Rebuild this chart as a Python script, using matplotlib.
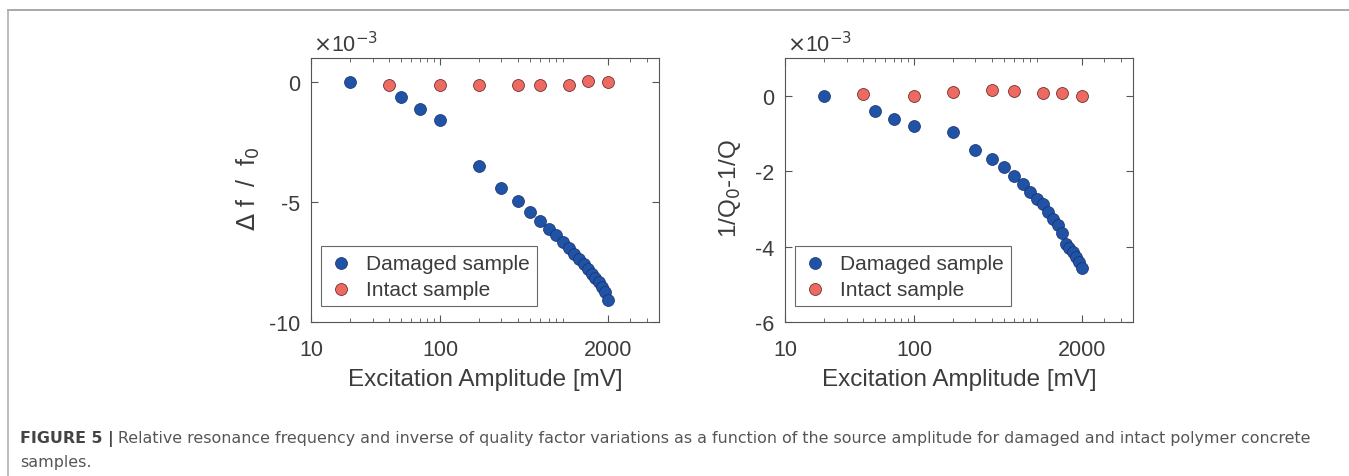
import matplotlib
matplotlib.use("Agg")
import matplotlib.pyplot as plt
from matplotlib.lines import Line2D
from matplotlib.ticker import NullFormatter

plt.rcParams["font.family"] = ["Liberation Sans", "DejaVu Sans"]
plt.rcParams["axes.unicode_minus"] = False

# excitation amplitude [mV]
amp_damaged = [20, 50, 70, 100, 200, 300, 400, 500, 600, 700, 800, 900, 1000,
               1100, 1200, 1300, 1400, 1500, 1600, 1700, 1800, 1900, 2000]
amp_intact = [40, 100, 200, 400, 600, 1000, 1400, 2000]

# relative frequency shift (x 1e-3)
df_damaged = [0.0, -0.64, -1.11, -1.6, -3.52, -4.4, -4.97, -5.42, -5.79, -6.11,
              -6.39, -6.67, -6.91, -7.16, -7.37, -7.58, -7.78, -7.99, -8.16,
              -8.34, -8.55, -8.76, -9.1]
df_intact = [-0.13, -0.13, -0.13, -0.14, -0.13, -0.13, 0.04, 0.0]

# 1/Q0 - 1/Q (x 1e-3)
q_damaged = [0.0, -0.41, -0.62, -0.81, -0.97, -1.44, -1.69, -1.9, -2.12, -2.35,
             -2.55, -2.73, -2.88, -3.08, -3.27, -3.44, -3.65, -3.92, -4.03,
             -4.15, -4.28, -4.4, -4.57]
q_intact = [0.04, -0.02, 0.10, 0.14, 0.12, 0.07, 0.06, 0.0]

xticks = [10, 100, 2000]
xticklabels = ["10", "100", "2000"]
yticks_left = [-10, -5, 0]
yticks_right = [-6, -4, -2, 0]

blue = "#2052a6"
red = "#ec6a62"
txt = "#3c3c3c"

W, H = 1349, 477
fig = plt.figure(figsize=(W / 100, H / 100), dpi=100)


def panel(x0, ylim, yticks, yd, yi, ylabel, labx, labsize):
    ax = fig.add_axes([x0 / W, 1 - 323 / H, 348 / W, 264 / H])
    ax.scatter(amp_damaged, yd, s=74, color=blue, edgecolors="#17306a",
               linewidths=0.5, label="Damaged sample", zorder=3)
    ax.scatter(amp_intact, yi, s=74, color=red, edgecolors="#5a1a16",
               linewidths=0.5, label="Intact sample", zorder=3)
    ax.set_xscale("log")
    ax.set_xlim(10, 5000)
    ax.set_ylim(*ylim)
    ax.set_xticks(xticks)
    ax.set_xticklabels(xticklabels)
    ax.xaxis.set_minor_formatter(NullFormatter())
    ax.set_yticks(yticks)
    ax.set_yticklabels([str(t) for t in yticks])
    ax.tick_params(which="both", direction="in", top=True, right=True,
                   colors="#555555", labelcolor=txt, labelsize=15.5, pad=8)
    ax.tick_params(axis="x", which="both", pad=12)
    ax.tick_params(which="major", length=5)
    ax.tick_params(which="minor", length=3)
    for s in ax.spines.values():
        s.set_color("#555555")
        s.set_linewidth(0.8)
    ax.set_xlabel("Excitation Amplitude [mV]", fontsize=17.5, color=txt,
                  labelpad=6)
    ax.set_ylabel(ylabel, fontsize=labsize, color=txt)
    ax.yaxis.set_label_coords(labx, 0.51)
    leg = ax.legend(loc="lower left", bbox_to_anchor=(0.03, 0.06),
                    fontsize=15, frameon=True, fancybox=False,
                    handletextpad=0.6, borderpad=0.35, labelspacing=0.35,
                    handlelength=1.2, borderaxespad=0)
    leg.get_frame().set_edgecolor("#444444")
    leg.get_frame().set_linewidth(0.8)
    for t in leg.get_texts():
        t.set_color(txt)
    fig.text((x0 + 2) / W, 1 - 45 / H, r"$\times$10$^{-3}$", fontsize=15.5,
             color=txt, va="center", ha="left")
    return ax


panel(311, (-10, 1), yticks_left, df_damaged, df_intact,
      r"$\Delta$ f  /  f$_0$", -0.14, 18)
panel(785, (-6, 1), yticks_right, q_damaged, q_intact,
      r"1/Q$_0$-1/Q", -0.12, 17.5)

# frame lines around the figure block
fig.add_artist(Line2D([8 / W, 1], [1 - 11 / H, 1 - 11 / H],
                      color="#9a9a9a", linewidth=1.2))
fig.add_artist(Line2D([8 / W, 8 / W], [0, 1 - 11 / H],
                      color="#b0b0b0", linewidth=1.2))

cap1 = fig.text(20 / W, 1 - 443 / H, "FIGURE 5 |", fontsize=11.4,
                fontweight="bold", color="#444444", family="DejaVu Sans",
                va="baseline")
fig.canvas.draw()
bb = cap1.get_window_extent()
fig.text((bb.x1 + 4) / W, 1 - 443 / H,
         "Relative resonance frequency and inverse of quality factor variations "
         "as a function of the source amplitude for damaged and intact polymer "
         "concrete", fontsize=11.4, color="#555555", family="DejaVu Sans",
         va="baseline")
fig.text(20 / W, 1 - 467 / H, "samples.", fontsize=11.4, color="#555555",
         family="DejaVu Sans", va="baseline")

fig.savefig("out.png", dpi=100)
